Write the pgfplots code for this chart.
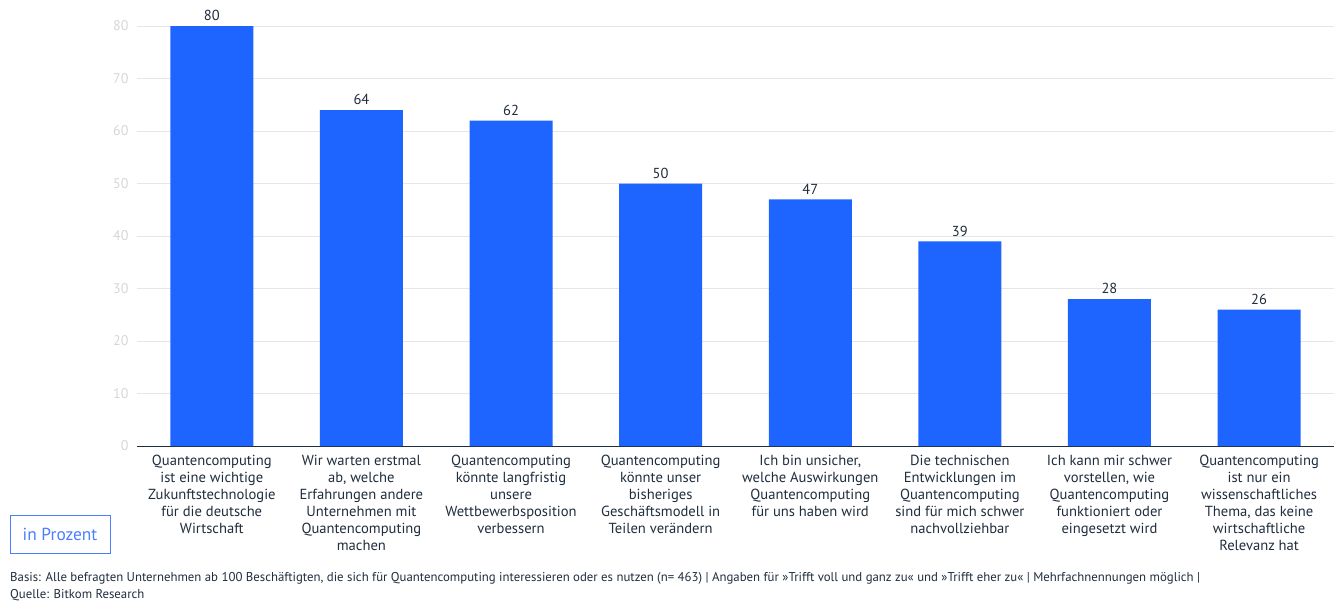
\documentclass[border=0pt]{standalone}
\usepackage{pgfplots}
\pgfplotsset{compat=1.18}
\usepackage{fontspec}
\setmainfont{PT Sans}
\definecolor{barblue}{HTML}{1E64FF}
\definecolor{txt}{HTML}{1F2D3D}
\definecolor{gridc}{HTML}{E6E6E6}
\definecolor{tickc}{HTML}{D6D6D6}
\definecolor{boxblue}{HTML}{4A7DFF}
\begin{document}
\begin{tikzpicture}[x=1pt,y=1pt]
\path[use as bounding box] (0,0) rectangle (1334,603);
\begin{axis}[
  at={(137pt,157pt)}, anchor=south west,
  width=1197pt, height=420pt, scale only axis,
  xmin=-0.5, xmax=7.5, ymin=0, ymax=80,
  ybar, bar width=83pt,
  axis x line*=bottom, axis y line*=left,
  x axis line style={draw=txt, line width=1pt, -},
  y axis line style={draw=none},
  ytick={0,10,...,80},
  ymajorgrids, grid style={gridc, line width=0.8pt},
  major tick length=0pt,
  xtick=data,
  xticklabels={
    {Quantencomputing\\ist eine wichtige\\Zukunftstechnologie\\für die deutsche\\Wirtschaft},
    {Wir warten erstmal\\ab, welche\\Erfahrungen andere\\Unternehmen mit\\Quantencomputing\\machen},
    {Quantencomputing\\könnte langfristig\\unsere\\Wettbewerbsposition\\verbessern},
    {Quantencomputing\\könnte unser\\bisheriges\\Geschäftsmodell in\\Teilen verändern},
    {Ich bin unsicher,\\welche Auswirkungen\\Quantencomputing\\für uns haben wird},
    {Die technischen\\Entwicklungen im\\Quantencomputing\\sind für mich schwer\\nachvollziehbar},
    {Ich kann mir schwer\\vorstellen, wie\\Quantencomputing\\funktioniert oder\\eingesetzt wird},
    {Quantencomputing\\ist nur ein\\wissenschaftliches\\Thema, das keine\\wirtschaftliche\\Relevanz hat}},
  xticklabel style={align=center, font=\fontsize{14.6}{17}\selectfont, text=txt, yshift=-6pt},
  yticklabel style={font=\fontsize{14}{16}\selectfont, text=tickc, xshift=-5pt},
  /pgf/number format/assume math mode=true,
  clip=false,
  nodes near coords,
  every node near coord/.append style={font=\fontsize{14.5}{16}\selectfont, text=txt, yshift=1.5pt},
]
\addplot[fill=barblue, draw=none] coordinates {
 (0,80) (1,64) (2,62) (3,50) (4,47) (5,39) (6,28) (7,26)};
\end{axis}
\node[draw=boxblue, line width=1pt, minimum width=100pt, minimum height=38pt, text=boxblue, font=\fontsize{17.4}{19}\selectfont] at (60,69) {in Prozent};
\node[anchor=base west, inner sep=0pt, text=txt, font=\fontsize{12.8}{14}\selectfont] at (10,22) {Basis: Alle befragten Unternehmen ab 100 Beschäftigten, die sich für Quantencomputing interessieren oder es nutzen (n= 463) | Angaben für »Trifft voll und ganz zu« und »Trifft eher zu« | Mehrfachnennungen möglich |};
\node[anchor=base west, inner sep=0pt, text=txt, font=\fontsize{12.8}{14}\selectfont] at (10,5) {Quelle: Bitkom Research};
\end{tikzpicture}
\end{document}
